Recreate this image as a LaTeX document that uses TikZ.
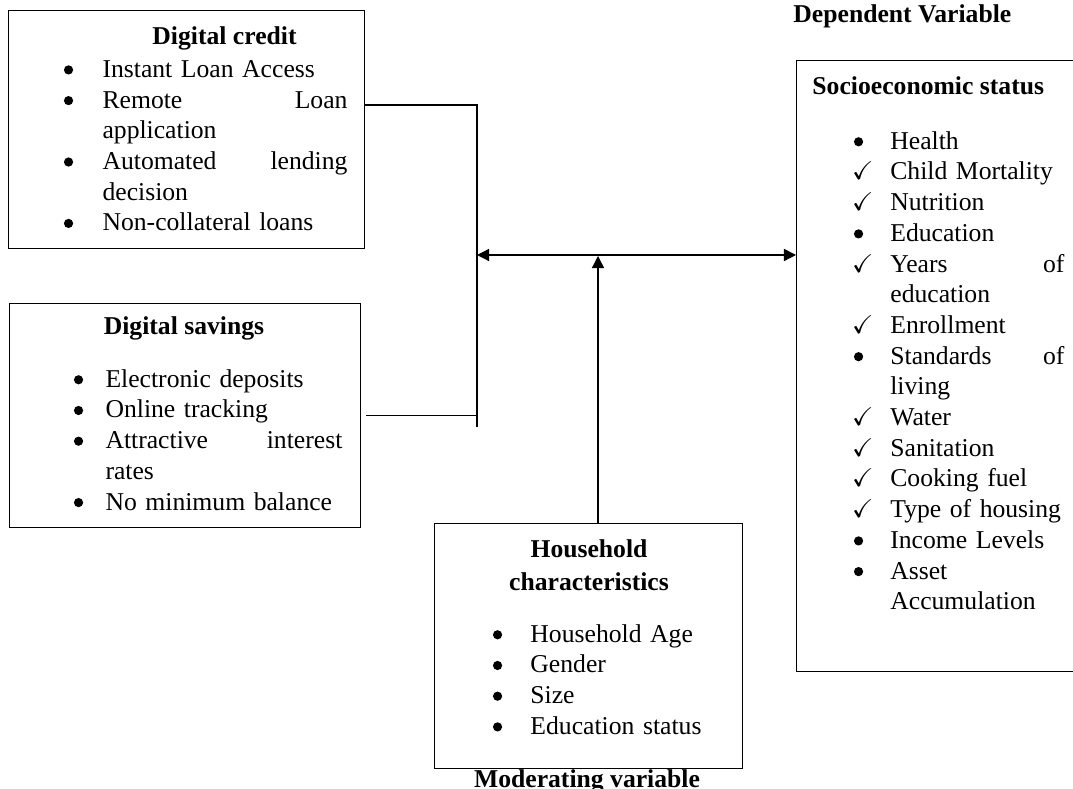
\documentclass[tikz,border=0pt]{standalone}
\usepackage{fontspec}
\setmainfont{Liberation Serif}
\usepackage{amssymb}
\usetikzlibrary{arrows.meta}
\newlength{\ind}
\newcommand{\bul}{\makebox[\ind][l]{\tikz[baseline=-3.4pt]\fill (2.1pt,0) circle (2.1pt);}}
\newcommand{\chk}{\makebox[\ind][l]{\hspace{-0.8pt}\smash{$\checkmark$}}}
\newcommand{\cnt}{\hspace*{\ind}}
\tikzset{
  line/.style={line width=0.6pt},
  arrow/.style={line, -{Triangle[length=5.5pt, width=5.5pt]}},
  twoway/.style={line, {Triangle[length=5.5pt, width=5.5pt]}-{Triangle[length=5.5pt, width=5.5pt]}},
  box/.style={draw, line width=0.6pt, anchor=north west, inner sep=0pt},
  head/.style={font=\fontsize{11.7}{15}\selectfont\bfseries, inner sep=0pt},
  list/.style={anchor=north west, inner sep=0pt, align=left}
}

\begin{document}
\begin{tikzpicture}[x=0.456pt, y=-0.456pt, every node/.style={font=\fontsize{11.7}{14}\selectfont}]
  \path[use as bounding box, clip] (0,0) rectangle (1073,789);

  % boxes
  \node[box, minimum width=162.3pt, minimum height=108.5pt] (credit) at (8,10) {};
  \node[box, minimum width=160.1pt, minimum height=102.1pt] (savings) at (9,303) {};
  \node[box, minimum width=140.4pt, minimum height=111.7pt] (house) at (434,523) {};
  \node[box, minimum width=136.8pt, minimum height=278.6pt] (socio) at (796,60) {};

  % titles
  \node[head, anchor=base] (creditT) at (224.5,45) {Digital credit};
  \node[head, anchor=base] (savingsT) at (184,335) {Digital savings};
  \node[head, anchor=north, align=center] (houseT) at (589,539) {Household\\characteristics};
  \node[head, anchor=base west] (socioT) at (812,95) {Socioeconomic status};
  \node[head, anchor=base west] (dep) at (793,23) {Dependent Variable};
  \node[head, anchor=base] (mod) at (587,787) {Moderating variable};

  % lists
  \node[list, text width=129.3pt] (creditL) at (63.5,60) {\setlength{\ind}{17.6pt}%
    \bul Instant Loan Access\\
    \bul Remote\hfill Loan\\
    \cnt application\\
    \bul Automated\hfill lending\\
    \cnt decision\\
    \bul Non-collateral loans};
  \node[list, text width=122.4pt] (savingsL) at (73.5,369) {\setlength{\ind}{14.4pt}%
    \bul Electronic deposits\\
    \bul Online tracking\\
    \bul Attractive\hfill interest\\
    \cnt rates\\
    \bul No minimum balance};
  \node[list, text width=104pt] (houseL) at (492.5,624) {\setlength{\ind}{17.1pt}%
    \bul Household Age\\
    \bul Gender\\
    \bul Size\\
    \bul Education status};
  \node[list, text width=96pt] (socioL) at (853.5,131) {\setlength{\ind}{16.6pt}%
    \bul Health\\
    \chk Child Mortality\\
    \chk Nutrition\\
    \bul Education\\
    \chk Years\hfill of\\
    \cnt education\\
    \chk Enrollment\\
    \bul Standards\hfill of\\
    \cnt living\\
    \chk Water\\
    \chk Sanitation\\
    \chk Cooking fuel\\
    \chk \mbox{Type of housing}\\
    \bul Income Levels\\
    \bul Asset\\
    \cnt Accumulation};

  % connectors
  \coordinate (busT) at (477,105);
  \coordinate (busB) at (477,427);
  \coordinate (mid) at (477,255);
  \coordinate (hit) at (598,256);
  \draw[line] (busT -| credit.east) -- (busT) -- (busB);
  \draw[line, shorten <=2.3pt] (savings.east) -- (savings.east -| busT);
  \draw[twoway] (mid) -- (mid -| socio.west);
  \draw[arrow] (hit |- house.north) -- (hit);
\end{tikzpicture}
\end{document}
